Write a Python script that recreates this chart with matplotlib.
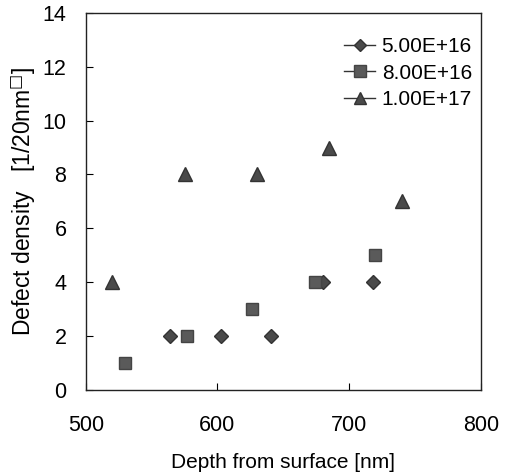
import matplotlib
matplotlib.use('Agg')
import matplotlib.pyplot as plt
from matplotlib.lines import Line2D

plt.rcParams['font.family'] = ['Liberation Sans', 'DejaVu Sans']
plt.rcParams['mathtext.fontset'] = 'dejavusans'

# depth [nm] vs defect density for three doses
depth_5e16 = [564, 603, 641, 680, 718]
dens_5e16 = [2, 2, 2, 4, 4]

depth_8e16 = [530, 577, 626, 674, 720]
dens_8e16 = [1, 2, 3, 4, 5]

depth_1e17 = [520, 575, 630, 685, 740]
dens_1e17 = [4, 8, 8, 9, 7]

labels = ['5.00E+16', '8.00E+16', '1.00E+17']

fig = plt.figure(figsize=(5.05, 4.75), dpi=100)
ax = fig.add_axes([0.170, 0.179, 0.782, 0.794])

col = '#4a4a4a'
ax.plot(depth_5e16, dens_5e16, 'D', color=col, ms=7, mec='#333333', label=labels[0])
ax.plot(depth_8e16, dens_8e16, 's', color='#5a5a5a', ms=8.5, mec='#444444', label=labels[1])
ax.plot(depth_1e17, dens_1e17, '^', color=col, ms=9.5, mec='#333333', label=labels[2])

ax.set_xlim(500, 800)
ax.set_ylim(0, 14)
ax.set_xticks([500, 600, 700, 800])
ax.set_yticks(range(0, 15, 2))
ax.tick_params(direction='in', length=5, width=0.8, labelsize=15.5)
ax.tick_params(axis='y', pad=14)
ax.tick_params(axis='x', pad=18)
for s in ax.spines.values():
    s.set_linewidth(1.0)
    s.set_color('#222222')

ax.set_xlabel('Depth from surface [nm]', fontsize=15, labelpad=12)
ax.set_ylabel('Defect density   [1/20nm$^{\u25a1}$]', fontsize=16.5, labelpad=3)

# legend with line through marker like the original
handles = [
    Line2D([], [], color='#333333', lw=1, marker='D', ms=6.5, mfc=col, mec='#333333'),
    Line2D([], [], color='#333333', lw=1, marker='s', ms=8, mfc='#5a5a5a', mec='#444444'),
    Line2D([], [], color='#333333', lw=1, marker='^', ms=8.5, mfc=col, mec='#333333'),
]
ax.legend(handles, labels, loc='upper right', frameon=False, fontsize=15,
          handlelength=1.5, handletextpad=0.3, labelspacing=0.35,
          bbox_to_anchor=(1.025, 0.985))

fig.savefig('out.png', dpi=100)
